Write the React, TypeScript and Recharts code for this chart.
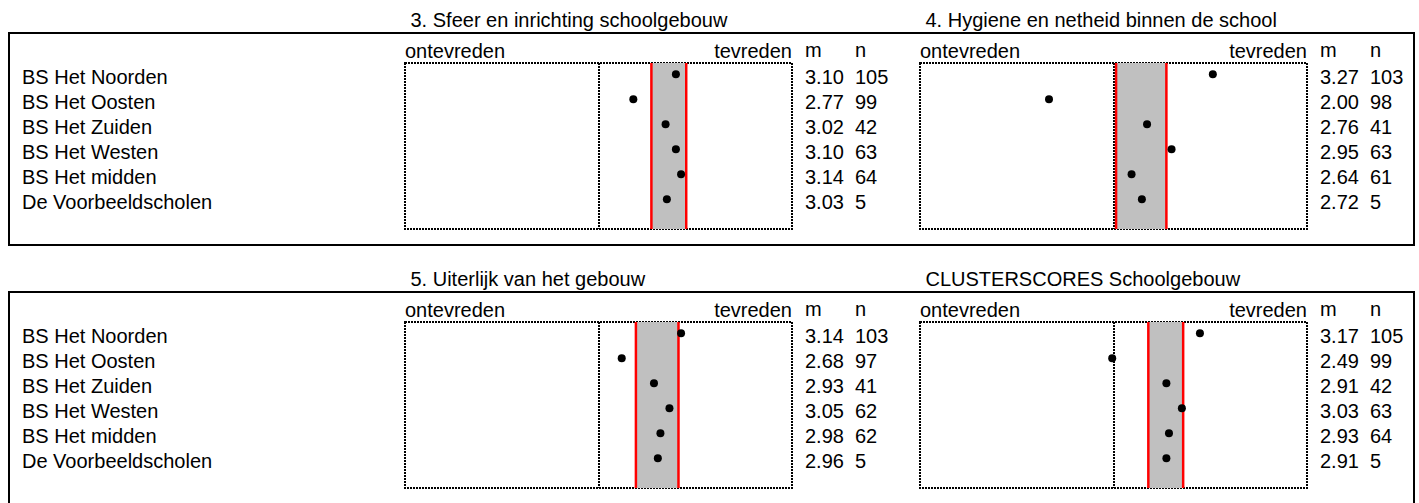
import React from "react";
import {
  ScatterChart,
  Scatter,
  XAxis,
  YAxis,
  ReferenceArea,
  ReferenceLine,
} from "recharts";

const schools = [
  "BS Het Noorden",
  "BS Het Oosten",
  "BS Het Zuiden",
  "BS Het Westen",
  "BS Het midden",
  "De Voorbeeldscholen",
];

const titles = [
  "3. Sfeer en inrichting schoolgebouw",
  "4. Hygiene en netheid binnen de school",
  "5. Uiterlijk van het gebouw",
  "CLUSTERSCORES Schoolgebouw",
];

const sfeerM = [3.1, 2.77, 3.02, 3.1, 3.14, 3.03];
const sfeerN = [105, 99, 42, 63, 64, 5];
const hygieneM = [3.27, 2.0, 2.76, 2.95, 2.64, 2.72];
const hygieneN = [103, 98, 41, 63, 61, 5];
const uiterlijkM = [3.14, 2.68, 2.93, 3.05, 2.98, 2.96];
const uiterlijkN = [103, 97, 41, 62, 62, 5];
const clusterM = [3.17, 2.49, 2.91, 3.03, 2.93, 2.91];
const clusterN = [105, 99, 42, 63, 64, 5];

// reference band (low, high) per panel
const bandLow = [2.91, 2.52, 2.79, 2.77];
const bandHigh = [3.18, 2.91, 3.12, 3.04];

const scaleLabels = ["ontevreden", "tevreden"];
const statHeaders = ["m", "n"];

const meansPerPanel = [sfeerM, hygieneM, uiterlijkM, clusterM];
const countsPerPanel = [sfeerN, hygieneN, uiterlijkN, clusterN];

const FONT = "'Liberation Sans', Arial, Helvetica, sans-serif";
const PLOT_W = 387;
const ROW_TOPS = [32, 291];
const COLS = [
  { chartLeft: 0, width: 900, plotLeft: 405 },
  { chartLeft: 880, width: 539, plotLeft: 920 },
];
const CHART_H = 200;
const XAXIS_H = 31;
const DOTS = "2 1";

const fmt = (v: number) => v.toFixed(2);

function Panel({ index }: { index: number }) {
  const col = COLS[index % 2];
  const rowTop = ROW_TOPS[Math.floor(index / 2)];
  const showNames = index % 2 === 0;
  const means = meansPerPanel[index];
  const counts = countsPerPanel[index];
  const data = means.map((m, i) => ({ m, row: i }));
  const leftW = col.plotLeft - col.chartLeft;
  const rightW = col.width - leftW - PLOT_W;
  const statX = leftW + PLOT_W + 13;

  return (
    <div style={{ position: "absolute", left: col.chartLeft, top: rowTop }}>
      <ScatterChart
        width={col.width}
        height={CHART_H}
        margin={{ top: 0, right: 0, bottom: 3, left: 0 }}
      >
        <XAxis
          xAxisId="x"
          dataKey="m"
          type="number"
          orientation="top"
          domain={[1, 4]}
          ticks={[1, 4]}
          interval={0}
          allowDataOverflow
          height={XAXIS_H}
          axisLine={false}
          tickLine={false}
          tick={(p: any) => (
            <text
              x={p.x}
              y={XAXIS_H - 5.5}
              textAnchor={p.payload.value === 1 ? "start" : "end"}
              fontSize={20}
              fill="#000"
            >
              {p.payload.value === 1 ? scaleLabels[0] : scaleLabels[1]}
            </text>
          )}
        />
        <YAxis
          yAxisId="rows"
          dataKey="row"
          type="number"
          domain={[-0.45, 6.19]}
          reversed
          ticks={[0, 1, 2, 3, 4, 5]}
          interval={0}
          allowDataOverflow
          width={leftW}
          axisLine={false}
          tickLine={false}
          tick={(p: any) =>
            showNames ? (
              <text x={22} y={p.y + 10} fontSize={20} fill="#000">
                {schools[p.payload.value]}
              </text>
            ) : (
              <g />
            )
          }
        />
        <YAxis
          yAxisId="stats"
          orientation="right"
          dataKey="row"
          type="number"
          domain={[-0.45, 6.19]}
          reversed
          ticks={[0, 1, 2, 3, 4, 5]}
          interval={0}
          allowDataOverflow
          width={rightW}
          axisLine={false}
          tickLine={false}
          tick={(p: any) => (
            <g>
              <text x={statX} y={p.y + 10} fontSize={20} fill="#000">
                {fmt(means[p.payload.value])}
              </text>
              <text x={statX + 50} y={p.y + 10} fontSize={20} fill="#000">
                {counts[p.payload.value]}
              </text>
            </g>
          )}
        />
        <ReferenceArea
          xAxisId="x"
          yAxisId="rows"
          x1={1}
          x2={4}
          fill="none"
          stroke="#000"
          strokeWidth={2}
          strokeDasharray={DOTS}
          shapeRendering="crispEdges"
          ifOverflow="visible"
        />
        <ReferenceLine
          xAxisId="x"
          yAxisId="rows"
          x={2.5}
          stroke="#000"
          strokeWidth={2}
          strokeDasharray={DOTS}
          shapeRendering="crispEdges"
        />
        <ReferenceArea
          xAxisId="x"
          yAxisId="rows"
          x1={bandLow[index]}
          x2={bandHigh[index]}
          fill="#c0c0c0"
          fillOpacity={1}
          stroke="none"
        />
        <ReferenceLine
          xAxisId="x"
          yAxisId="rows"
          x={bandLow[index]}
          stroke="#ff0000"
          strokeWidth={2.5}
        />
        <ReferenceLine
          xAxisId="x"
          yAxisId="rows"
          x={bandHigh[index]}
          stroke="#ff0000"
          strokeWidth={2.5}
        />
        <Scatter
          xAxisId="x"
          yAxisId="rows"
          data={data}
          isAnimationActive={false}
          shape={(p: any) => <circle cx={p.cx} cy={p.cy} r={4} fill="#000" />}
        />
      </ScatterChart>
    </div>
  );
}

export default function App() {
  return (
    <div
      style={{
        position: "absolute",
        left: 0,
        top: 0,
        width: 1419,
        height: 503,
        overflow: "hidden",
        background: "#fff",
        fontFamily: FONT,
        color: "#000",
      }}
    >
      {ROW_TOPS.map((top, r) => (
        <div
          key={`box-${r}`}
          style={{
            position: "absolute",
            left: 8,
            top,
            width: 1407,
            height: r === 0 ? 214 : 300,
            border: "2px solid #000",
            boxSizing: "border-box",
          }}
        />
      ))}
      {titles.map((t, i) => {
        const col = COLS[i % 2];
        const rowTop = ROW_TOPS[Math.floor(i / 2)];
        return (
          <div
            key={`title-${i}`}
            style={{
              position: "absolute",
              left: col.plotLeft + 5.5,
              top: rowTop - 22.5,
              fontSize: 20,
              lineHeight: "20px",
              whiteSpace: "nowrap",
            }}
          >
            {t}
          </div>
        );
      })}
      {[0, 1, 2, 3].map((i) => <Panel key={i} index={i} />)}
      {[0, 1, 2, 3].map((i) => {
        const col = COLS[i % 2];
        const rowTop = ROW_TOPS[Math.floor(i / 2)];
        return statHeaders.map((h, k) => (
          <div
            key={`hdr-${i}-${k}`}
            style={{
              position: "absolute",
              left: col.plotLeft + PLOT_W + 13 + k * 50,
              top: rowTop + 8,
              fontSize: 20,
              lineHeight: "20px",
            }}
          >
            {h}
          </div>
        ));
      })}
    </div>
  );
}
